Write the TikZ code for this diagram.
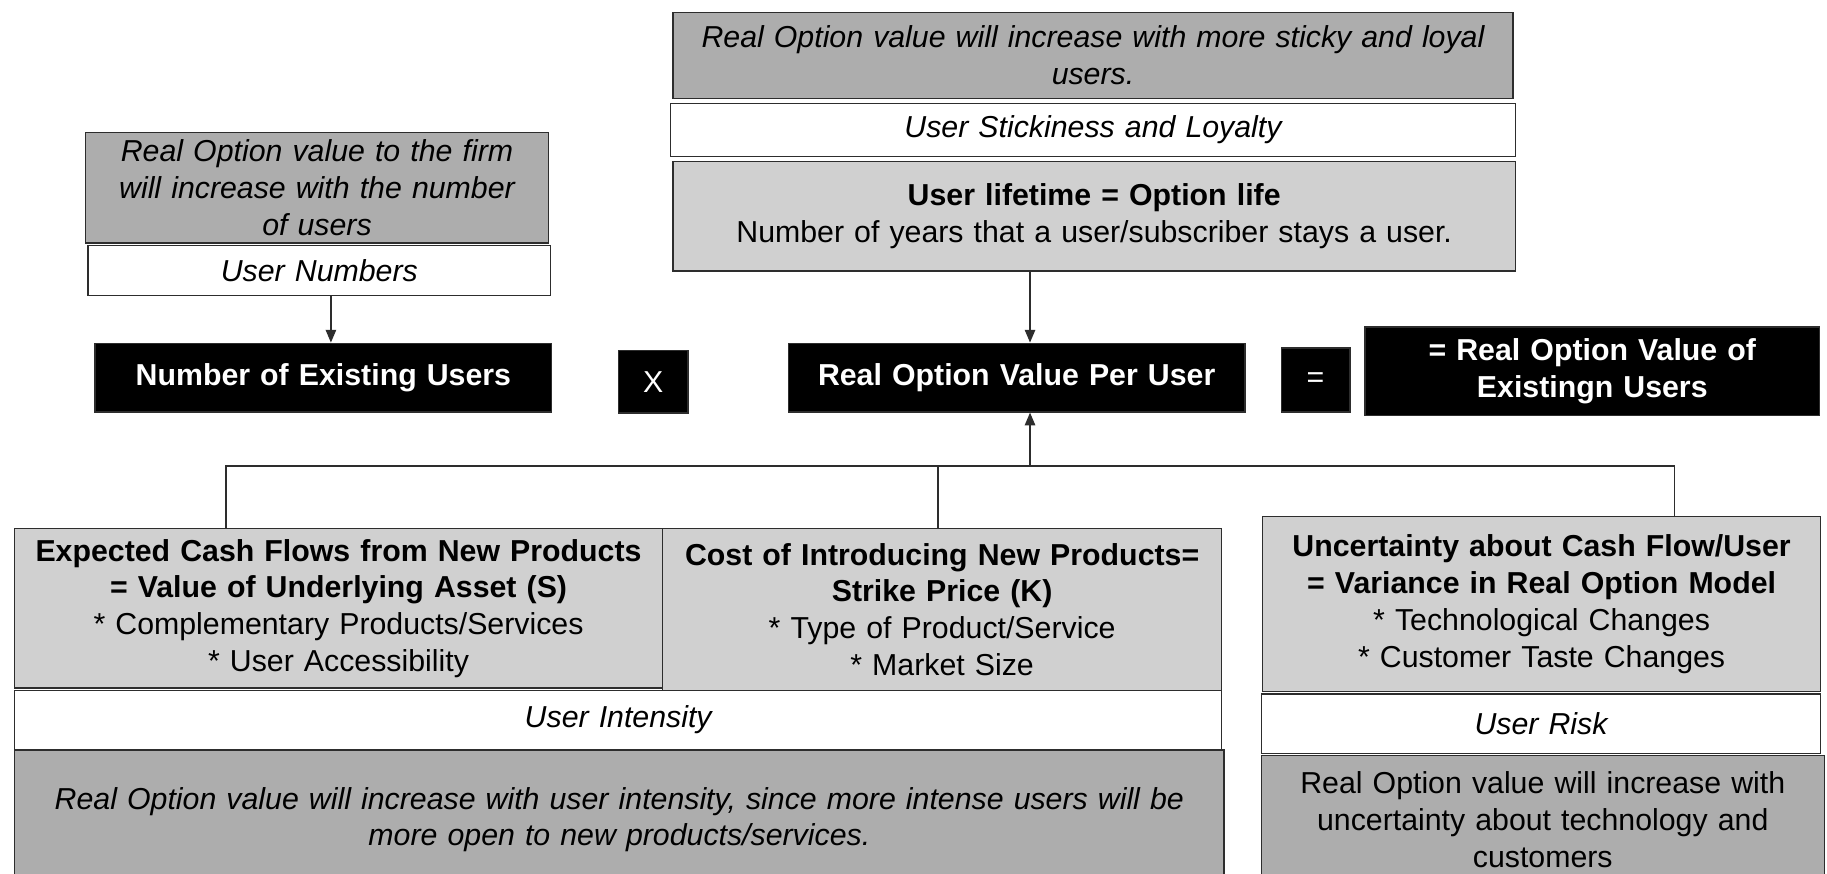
\documentclass[tikz,border=0pt]{standalone}
\usepackage{fontspec}
\setmainfont{Liberation Sans}
\usetikzlibrary{arrows.meta}
\definecolor{darkg}{RGB}{173,173,173}
\definecolor{lightg}{RGB}{208,208,208}
\definecolor{edge}{RGB}{45,45,45}
\begin{document}
\begin{tikzpicture}[x=1pt,y=-1pt,
  base/.style={draw=edge, line width=1.1pt, inner sep=0pt, align=center, anchor=north west,
    font=\fontsize{26}{31.5}\selectfont},
  graybox/.style={base, fill=darkg},
  lightbox/.style={base, fill=lightg},
  whitebox/.style={base, fill=white},
  blackbox/.style={base, fill=black, text=white},
  conn/.style={draw=edge, line width=1.2pt},
  arr/.style={conn, -{Triangle[length=11pt,width=9pt]}}]
\useasboundingbox (0,0) rectangle (1568,750);
\clip (0,0) rectangle (1568,750);
\fill[white] (0,0) rectangle (1568,750);

% left column
\node[graybox, minimum width=397pt, minimum height=95pt, text width=390pt] (g1) at (73,113)
  {\itshape Real Option value to the firm\\ will increase with the number\\ of users};
\node[whitebox, minimum width=397pt, minimum height=43pt, text width=390pt] (w1) at (75,210)
  {\itshape User Numbers};
\node[blackbox, minimum width=392pt, minimum height=59pt, text width=385pt] (b1) at (81,294)
  {\bfseries Number of Existing Users};
\node[blackbox, minimum width=60pt, minimum height=54pt] (bx) at (530,300) {X};

% middle column
\node[graybox, minimum width=721pt, minimum height=74pt, text width=710pt] (g2) at (577,10)
  {\itshape Real Option value will increase with more sticky and loyal\\ users.};
\node[whitebox, minimum width=725pt, minimum height=46pt, text width=715pt] (w2) at (575,88)
  {\itshape User Stickiness and Loyalty};
\node[lightbox, minimum width=723pt, minimum height=94pt, text width=715pt] (l2) at (577,138)
  {\textbf{User lifetime = Option life}\\ Number of years that a user/subscriber stays a user.};
\node[blackbox, minimum width=392pt, minimum height=59pt, text width=385pt] (b2) at (676,294)
  {\bfseries Real Option Value Per User};
\node[blackbox, minimum width=59pt, minimum height=55pt] (be) at (1099,298) {=};
\node[blackbox, minimum width=390pt, minimum height=76pt, text width=385pt] (b3) at (1171,280)
  {\bfseries = Real Option Value of\\ Existingn Users};

% bottom left
\node[lightbox, minimum width=556pt, minimum height=137pt, text width=550pt] (l3) at (12,453)
  {\textbf{Expected Cash Flows from New Products}\\ \textbf{= Value of Underlying Asset (S)}\\
   {*} Complementary Products/Services\\ {*} User Accessibility};
\node[lightbox, minimum width=480pt, minimum height=139pt, text width=474pt] (l4) at (568,453)
  {\textbf{Cost of Introducing New Products=}\\ \textbf{Strike Price (K)}\\
   {*} Type of Product/Service\\ {*} Market Size};
\node[whitebox, minimum width=1036pt, minimum height=51pt, text width=1020pt] (w3) at (12,592)
  {\itshape User Intensity};
\node[graybox, minimum width=1038pt, minimum height=120pt, text width=1020pt] (g3) at (12,643)
  {\itshape Real Option value will increase with user intensity, since more intense users will be\\
   more open to new products/services.};

% bottom right
\node[lightbox, minimum width=479pt, minimum height=150pt, text width=470pt] (l5) at (1083,443)
  {\textbf{Uncertainty about Cash Flow/User}\\ \textbf{= Variance in Real Option Model}\\
   {*} Technological Changes\\ {*} Customer Taste Changes};
\node[whitebox, minimum width=480pt, minimum height=51pt, text width=470pt] (w4) at (1082,595)
  {\itshape User Risk};
\node[graybox, minimum width=483pt, minimum height=110pt, text width=470pt] (g4) at (1082,648)
  {Real Option value will increase with\\ uncertainty about technology and\\ customers};

% connectors
\coordinate (a1) at (284,0);
\coordinate (a2) at (884,0);
\coordinate (tj) at (884,400);
\coordinate (c1) at (194,400);
\coordinate (c2) at (805,400);
\coordinate (c3) at (1437,400);

\draw[arr] (w1.south -| a1) -- (b1.north -| a1);
\draw[arr] (l2.south -| a2) -- (b2.north -| a2);
\draw[arr] (tj) -- (b2.south -| a2);
\draw[conn] (c1 |- l3.north) -- (c1) -- (c3) -- (c3 |- l5.north);
\draw[conn] (c2 |- l4.north) -- (c2);
\end{tikzpicture}
\end{document}
